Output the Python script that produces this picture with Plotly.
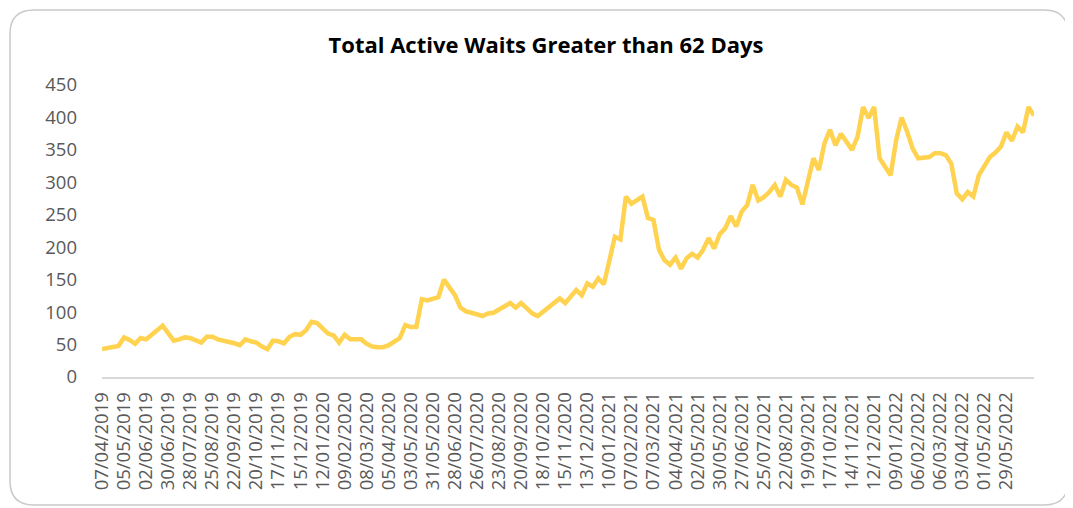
"""Weekly line chart: total active waits greater than 62 days."""

import pandas as pd
import plotly.graph_objects as go

FONT = "Open Sans"
LINE_COLOR = "#FFD24F"
LABEL_COLOR = "#595959"

TITLE = "Total Active Waits Greater than 62 Days"

# one value per week, starting 07/04/2019
WEEKLY_WAITS = [
    43, 45, 46, 48, 61, 57, 51, 60, 58, 66,
    72, 79, 68, 56, 58, 61, 60, 57, 53, 62,
    62, 58, 56, 55, 52, 49, 58, 55, 53, 47,
    43, 56, 55, 52, 62, 66, 65, 72, 85, 83,
    75, 67, 64, 53, 65, 58, 58, 58, 51, 47,
    46, 46, 49, 54, 60, 80, 77, 77, 120, 118,
    120, 123, 150, 137, 126, 107, 101, 99, 96, 94,
    98, 99, 104, 110, 114, 107, 114, 106, 98, 94,
    101, 108, 113, 121, 114, 124, 134, 126, 144, 139,
    152, 143, 180, 216, 212, 278, 267, 272, 278, 245,
    242, 196, 180, 173, 184, 167, 183, 190, 184, 196,
    214, 198, 220, 229, 248, 232, 255, 265, 296, 272,
    277, 285, 296, 278, 304, 296, 292, 266, 300, 337,
    319, 360, 381, 357, 375, 363, 350, 370, 416, 399,
    416, 337, 325, 311, 365, 400, 378, 352, 337, 338,
    339, 345, 345, 342, 329, 283, 274, 285, 278, 311,
    324, 339, 346, 355, 377, 364, 386, 377, 416, 403,
]

# labelled every fourth week
TICK_LABELS = [
    "07/04/2019", "05/05/2019", "02/06/2019", "30/06/2019", "28/07/2019",
    "25/08/2019", "22/09/2019", "20/10/2019", "17/11/2019", "15/12/2019",
    "12/01/2020", "09/02/2020", "08/03/2020", "05/04/2020", "03/05/2020",
    "31/05/2020", "28/06/2020", "26/07/2020", "23/08/2020", "20/09/2020",
    "18/10/2020", "15/11/2020", "13/12/2020", "10/01/2021", "07/02/2021",
    "07/03/2021", "04/04/2021", "02/05/2021", "30/05/2021", "27/06/2021",
    "25/07/2021", "22/08/2021", "19/09/2021", "17/10/2021", "14/11/2021",
    "12/12/2021", "09/01/2022", "06/02/2022", "06/03/2022", "03/04/2022",
    "01/05/2022", "29/05/2022",
]

Y_TICKS = [0, 50, 100, 150, 200, 250, 300, 350, 400, 450]

weeks = pd.date_range("2019-04-07", periods=len(WEEKLY_WAITS), freq="7D")
tick_dates = pd.to_datetime(TICK_LABELS, format="%d/%m/%Y")

# the page body has an 8px margin, so the figure is drawn 8px in from the window edge
OFF = 8
W, H = 1073 - OFF, 508 - OFF
# plot area in window pixels (left, top, right, bottom), shifted into figure pixels
PL, PT, PR, PB = 102 - OFF, 85 - OFF, 1034 - OFF, 377 - OFF


def rounded_box(x0, y0, x1, y1, r):
    """SVG path of a rounded rectangle (window px), relative to the plot's bottom-left."""
    def p(x, y):
        return f"{x - OFF - PL},{PB - (y - OFF)}"
    return (
        f"M{p(x0 + r, y0)} L{p(x1 - r, y0)} Q{p(x1, y0)} {p(x1, y0 + r)} "
        f"L{p(x1, y1 - r)} Q{p(x1, y1)} {p(x1 - r, y1)} "
        f"L{p(x0 + r, y1)} Q{p(x0, y1)} {p(x0, y1 - r)} "
        f"L{p(x0, y0 + r)} Q{p(x0, y0)} {p(x0 + r, y0)} Z"
    )


fig = go.Figure()
fig.add_trace(
    go.Scatter(
        x=weeks,
        y=WEEKLY_WAITS,
        mode="lines",
        line=dict(color=LINE_COLOR, width=4.5),
        hovertemplate="%{x|%d/%m/%Y}: %{y}<extra></extra>",
    )
)

fig.add_shape(
    type="path",
    xref="paper", yref="paper",
    xsizemode="pixel", ysizemode="pixel",
    xanchor=0, yanchor=0,
    path=rounded_box(10, 10, 1068, 505, 24),
    line=dict(color="#c9c9c9", width=1.5),
    layer="below",
)

fig.update_layout(
    width=W,
    height=H,
    margin=dict(l=PL, r=W - PR, t=PT, b=H - PB, autoexpand=False),
    paper_bgcolor="white",
    plot_bgcolor="white",
    showlegend=False,
    title=dict(
        text=f"<b>{TITLE}</b>",
        x=(546 - OFF) / W, xanchor="center",
        y=1 - (45 - OFF) / H, yanchor="middle", yref="container",
        font=dict(family=FONT, size=22, color="#000000"),
    ),
    font=dict(family=FONT, color=LABEL_COLOR, size=18.5),
)

fig.update_xaxes(
    range=[weeks[0], weeks[-1]],
    tickvals=tick_dates,
    ticktext=TICK_LABELS,
    tickangle=-90,
    showgrid=False,
    zeroline=False,
    showline=True,
    linecolor="#d9d9d9",
    linewidth=1.5,
    ticks="",
    ticklabelstandoff=6,
    tickfont=dict(family=FONT, size=18.5, color=LABEL_COLOR),
)

fig.update_yaxes(
    range=[0, 450],
    tickvals=Y_TICKS,
    showgrid=False,
    zeroline=False,
    showline=False,
    ticks="",
    ticklabelstandoff=24,
    tickfont=dict(family=FONT, size=18.5, color=LABEL_COLOR),
)

fig.write_html("out.html")
